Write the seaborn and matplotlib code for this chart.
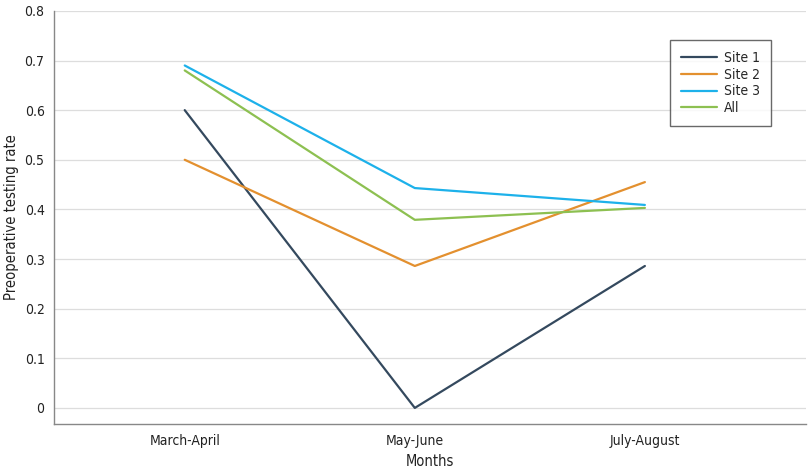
import pandas as pd
import matplotlib.pyplot as plt
import seaborn as sns

# ── Data ───────────────────────────────────────────────────────────────────────
months = ['March-April', 'May-June', 'July-August']
site1 = [0.600, 0.000, 0.286]
site2 = [0.500, 0.286, 0.455]
site3 = [0.690, 0.443, 0.409]
all_sites = [0.680, 0.379, 0.403]
series_names = ['Site 1', 'Site 2', 'Site 3', 'All']
colors = ['#34495e', '#e3902f', '#1db1ea', '#8dc051']

df = pd.DataFrame({
    'Months': months * 4,
    'pos': list(range(len(months))) * 4,
    'rate': site1 + site2 + site3 + all_sites,
    'series': [n for n in series_names for _ in months],
})

sns.set_style('white')
plt.rcParams['font.family'] = ['DejaVu Sans']
plt.rcParams['font.stretch'] = 'condensed'

fig = plt.figure(figsize=(8.1, 4.73), dpi=100)
ax = fig.add_axes([0.067, 0.104, 0.928, 0.873])

sns.lineplot(data=df, x='pos', y='rate', hue='series', hue_order=series_names,
             palette=colors, linewidth=1.6, ax=ax)

ax.set_xlim(-0.567, 2.70)
ax.set_ylim(-0.032, 0.8)
ax.set_yticks([0, 0.1, 0.2, 0.3, 0.4, 0.5, 0.6, 0.7, 0.8])
ax.set_yticklabels(['0', '0.1', '0.2', '0.3', '0.4', '0.5', '0.6', '0.7', '0.8'])
ax.set_xticks(range(len(months)))
ax.set_xticklabels(months)
ax.yaxis.grid(True, color='#dddddd', linewidth=0.9)
ax.set_axisbelow(True)

for s in ['top', 'right']:
    ax.spines[s].set_visible(False)
for s in ['left', 'bottom']:
    ax.spines[s].set_color('#888888')
    ax.spines[s].set_linewidth(1.0)

ax.tick_params(axis='both', direction='out', length=4, width=0.8, color='#888888',
               labelsize=10, labelcolor='#222222')
ax.tick_params(axis='x', pad=3)
ax.tick_params(axis='y', pad=3)
ax.set_xlabel('Months', fontsize=10.5, color='#222222', labelpad=5)
ax.set_ylabel('Preoperative testing rate', fontsize=10.5, color='#222222', labelpad=4)

leg = ax.legend(title=None, loc='upper left', bbox_to_anchor=(0.819, 0.93),
                borderaxespad=0, frameon=True, fancybox=False, fontsize=10,
                handlelength=2.6, borderpad=0.8, labelspacing=0.2, handletextpad=0.5)
leg.get_frame().set_edgecolor('#444444')
leg.get_frame().set_linewidth(1.0)

plt.savefig('out.png', dpi=100)
plt.close()
